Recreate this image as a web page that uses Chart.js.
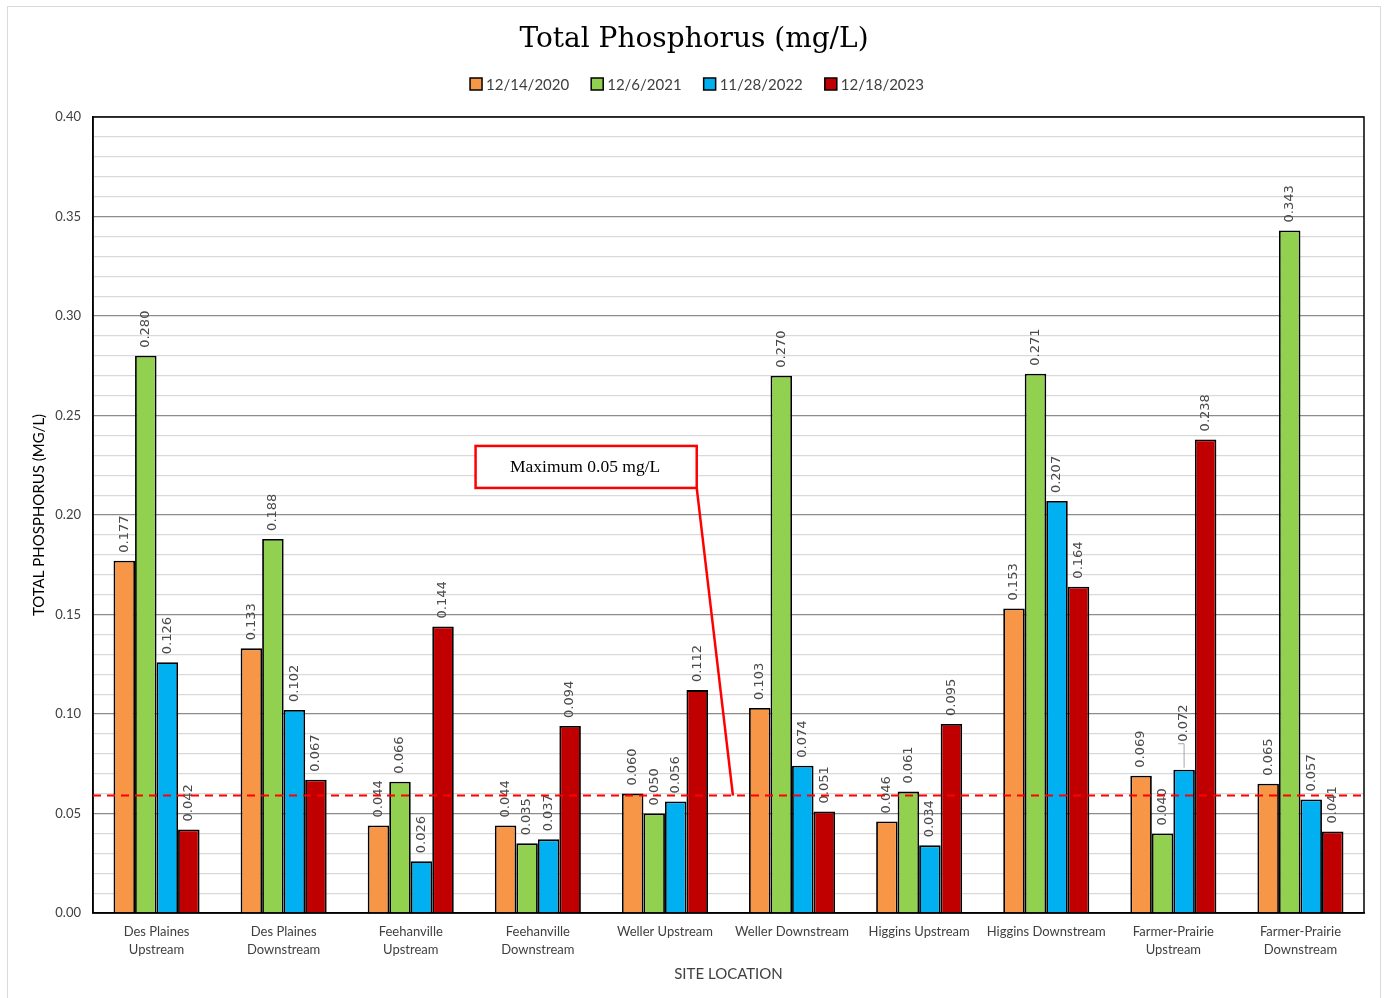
<!DOCTYPE html>
<html>
<head>
<meta charset="utf-8">
<script src="https://cdn.jsdelivr.net/npm/chart.js@4.4.1/dist/chart.umd.min.js"></script>
<style>
  html, body { margin: 0; padding: 0; background: #fff; }
  #wrap { position: absolute; left: 0; top: 0; width: 1389px; height: 998px; }
  #frame { position: absolute; left: 7px; top: 6px; width: 1374px; height: 1000px; border: 1.5px solid #d9d9d9; box-sizing: border-box; }
</style>
</head>
<body>
<div id="wrap">
  <div id="frame"></div>
  <canvas id="c" width="1389" height="998"></canvas>
</div>
<script>
const categories = [
  ["Des Plaines", "Upstream"],
  ["Des Plaines", "Downstream"],
  ["Feehanville", "Upstream"],
  ["Feehanville", "Downstream"],
  "Weller Upstream",
  "Weller Downstream",
  "Higgins Upstream",
  "Higgins Downstream",
  ["Farmer-Prairie", "Upstream"],
  ["Farmer-Prairie", "Downstream"]
];
const seriesNames = ["12/14/2020", "12/6/2021", "11/28/2022", "12/18/2023"];
const values2020 = [0.177, 0.133, 0.044, 0.044, 0.060, 0.103, 0.046, 0.153, 0.069, 0.065];
const values2021 = [0.280, 0.188, 0.066, 0.035, 0.050, 0.270, 0.061, 0.271, 0.040, 0.343];
const values2022 = [0.126, 0.102, 0.026, 0.037, 0.056, 0.074, 0.034, 0.207, 0.072, 0.057];
const values2023 = [0.042, 0.067, 0.144, 0.094, 0.112, 0.051, 0.095, 0.164, 0.238, 0.041];
const limitLineValue = 0.059;
const yTickLabels = ["0.00", "0.05", "0.10", "0.15", "0.20", "0.25", "0.30", "0.35", "0.40"];
const chartTitle = "Total Phosphorus (mg/L)";
const annotationText = "Maximum 0.05 mg/L";

const colors = ["#F79646", "#92D050", "#00B0F0", "#C00000"];
const allValues = [values2020, values2021, values2022, values2023];

// Annotation placement expressed in data/category coordinates
const annoBox = { x0: 2.51, x1: 4.25, y0: 0.2136, y1: 0.2347 };
const annoArrowEnd = { x: 4.535, y: limitLineValue };

const overlayPlugin = {
  id: 'overlay',
  afterDraw(chart) {
    const ctx = chart.ctx;
    ctx.save();
    // title
    ctx.fillStyle = '#000';
    ctx.font = '28px "DejaVu Serif"';
    ctx.textAlign = 'center';
    ctx.textBaseline = 'middle';
    ctx.fillText(chartTitle, 694, 40);
    // legend
    ctx.font = '15px Lato';
    ctx.textAlign = 'left';
    const box = 12, gapBT = 4, gapItem = 22;
    const widths = seriesNames.map(n => ctx.measureText(n).width);
    const total = widths.reduce((a, w) => a + box + gapBT + w, 0) + gapItem * (seriesNames.length - 1);
    let x = 697 - total / 2;
    const cy = 84;
    seriesNames.forEach((n, i) => {
      ctx.fillStyle = colors[i];
      ctx.fillRect(x, cy - box / 2, box, box);
      ctx.strokeStyle = '#000';
      ctx.lineWidth = 1.5;
      ctx.strokeRect(x, cy - box / 2, box, box);
      ctx.fillStyle = '#404040';
      ctx.fillText(n, x + box + gapBT, cy + 1);
      x += box + gapBT + widths[i] + gapItem;
    });
    ctx.restore();
  },
  afterDatasetsDraw(chart) {
    const ctx = chart.ctx;
    const xs = chart.scales.x, ys = chart.scales.y;
    const ca = chart.chartArea;
    ctx.save();
    // data labels
    ctx.font = '13px "DejaVu Sans"';
    ctx.fillStyle = '#4a4a4a';
    ctx.textAlign = 'left';
    ctx.textBaseline = 'middle';
    chart.data.datasets.forEach((ds, di) => {
      const meta = chart.getDatasetMeta(di);
      meta.data.forEach((bar, i) => {
        const v = ds.data[i];
        const txt = v.toFixed(3);
        let extra = 0;
        if (di === 2 && i === 8) extra = 20;
        ctx.save();
        ctx.translate(bar.x, bar.y - 8 - extra);
        ctx.rotate(-Math.PI / 2);
        ctx.fillText(txt, 0, 0);
        ctx.restore();
        if (extra) {
          ctx.strokeStyle = '#a6a6a6';
          ctx.lineWidth = 1;
          ctx.beginPath();
          ctx.moveTo(bar.x, bar.y - 2);
          ctx.lineTo(bar.x, bar.y - 6 - extra);
          ctx.moveTo(bar.x, bar.y - 6 - extra);
          ctx.lineTo(bar.x - 6, bar.y - 6 - extra);
          ctx.stroke();
        }
      });
    });
    // plot border
    ctx.strokeStyle = '#000';
    ctx.lineWidth = 1.5;
    ctx.strokeRect(ca.left, ca.top, ca.right - ca.left, ca.bottom - ca.top);
    // limit line
    const ly = ys.getPixelForValue(limitLineValue);
    ctx.strokeStyle = '#FF0000';
    ctx.lineWidth = 2;
    ctx.setLineDash([8, 6]);
    ctx.beginPath();
    ctx.moveTo(ca.left, ly);
    ctx.lineTo(ca.right, ly);
    ctx.stroke();
    ctx.setLineDash([]);
    // annotation arrow
    const bx0 = xs.getPixelForValue(annoBox.x0), bx1 = xs.getPixelForValue(annoBox.x1);
    const by0 = ys.getPixelForValue(annoBox.y1), by1 = ys.getPixelForValue(annoBox.y0);
    ctx.strokeStyle = '#FF0000';
    ctx.lineWidth = 2.5;
    ctx.beginPath();
    ctx.moveTo(bx1, by1);
    ctx.lineTo(xs.getPixelForValue(annoArrowEnd.x), ys.getPixelForValue(annoArrowEnd.y));
    ctx.stroke();
    // annotation box
    ctx.fillStyle = '#fff';
    ctx.fillRect(bx0, by0, bx1 - bx0, by1 - by0);
    ctx.strokeRect(bx0, by0, bx1 - bx0, by1 - by0);
    ctx.fillStyle = '#000';
    ctx.font = '17.5px "Liberation Serif"';
    ctx.textAlign = 'center';
    ctx.textBaseline = 'middle';
    ctx.fillText(annotationText, (bx0 + bx1) / 2 - 1, (by0 + by1) / 2);
    ctx.restore();
  }
};

new Chart(document.getElementById('c'), {
  type: 'bar',
  data: {
    labels: categories,
    datasets: seriesNames.map((n, i) => ({
      label: n,
      data: allValues[i],
      backgroundColor: colors[i],
      borderColor: '#000',
      borderWidth: 1.8,
      categoryPercentage: 0.677,
      barPercentage: 1.0
    }))
  },
  options: {
    responsive: false,
    animation: false,
    devicePixelRatio: 1,
    layout: { padding: { left: 30, right: 25, top: 117, bottom: 0 } },
    plugins: {
      title: { display: false },
      legend: { display: false },
      tooltip: { enabled: false }
    },
    scales: {
      x: {
        grid: { display: false },
        border: { display: true, color: '#000', width: 1.5 },
        ticks: { color: '#404040', font: { family: 'Lato', size: 13, lineHeight: 1.38 }, maxRotation: 0, autoSkip: false, padding: 2 },
        title: { display: true, text: 'SITE LOCATION', color: '#404040', font: { family: 'Lato', size: 15 }, padding: { top: 10, bottom: 15 } },
        afterFit(s) { s.height = 85; }
      },
      y: {
        min: 0, max: 0.4,
        ticks: {
          stepSize: 0.01,
          color: '#404040',
          font: { family: 'Lato', size: 13 },
          padding: 12,
          autoSkip: false,
          callback(v) {
            const k = Math.round(v * 100);
            return k % 5 === 0 ? yTickLabels[k / 5] : '';
          }
        },
        grid: {
          drawTicks: false,
          color(ctx) {
            const k = Math.round(ctx.tick.value * 100);
            return k % 5 === 0 ? '#8c8c8c' : '#d9d9d9';
          },
          lineWidth: 1.2
        },
        border: { display: true, color: '#000', width: 1.5 },
        title: { display: true, text: 'TOTAL PHOSPHORUS (MG/L)', color: '#000', font: { family: 'Lato', size: 15 }, padding: { top: 0, bottom: 10 } },
        afterFit(s) { s.width = 63; }
      }
    }
  },
  plugins: [overlayPlugin]
});
</script>
</body>
</html>
